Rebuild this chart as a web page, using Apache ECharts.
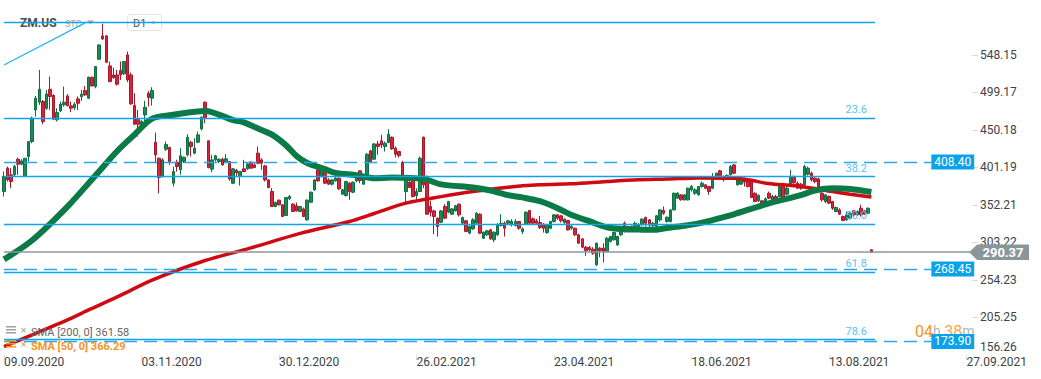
<!DOCTYPE html>
<html><head><meta charset="utf-8">
<script src="https://cdn.jsdelivr.net/npm/echarts@6/dist/echarts.min.js"></script>
<style>html,body{margin:0;padding:0;background:#fff}#c{width:1041px;height:379px}</style>
</head><body><div id="c"></div>
<script>
// ---------- data ----------
const xTickLabels = ['09.09.2020','03.11.2020','30.12.2020','26.02.2021','23.04.2021','18.06.2021','13.08.2021','27.09.2021'];
const xTickStep = 39;      // bars between date labels
const slotCount = 275;     // bar slots incl. empty future space
const yTickValues = [156.26, 205.25, 254.23, 303.22, 352.21, 401.19, 450.18, 499.17, 548.15];
const yMin = 156.26, yMax = 619.9;

// [open, close, low, high]
const candles = [
[369.7,389.3,363.2,395.8],[400.2,385.0,382.8,402.3],[391.5,382.8,374.0,400.2],[391.5,402.3,389.3,404.5],[411.9,405.4,391.5,414.1],
[405.4,409.7,404.0,412.0],[389.3,413.2,389.0,413.5],[415.4,435.0,408.9,435.5],[435.0,465.5,432.8,467.6],[476.3,491.6,467.6,494.6],
[486.4,503.3,482.9,528.6],[487.2,461.1,457.6,489.4],[478.5,497.2,476.3,502.5],[503.3,493.8,476.3,519.9],[495.1,464.2,463.3,496.8],
[463.3,472.9,461.1,478.5],[475.0,483.7,473.3,487.2],[482.9,486.4,480.7,506.8],[494.6,482.0,480.7,496.8],[481.6,478.5,473.3,487.2],
[479.4,483.7,476.3,486.4],[490.7,485.0,476.3,493.8],[493.8,496.8,488.1,502.5],[501.6,495.9,494.6,507.7],[491.6,519.0,490.7,519.9],
[519.0,507.7,506.8,519.9],[506.8,532.9,504.6,533.5],[542.5,561.2,541.6,562.1],[573.0,569.1,567.8,588.8],[573.0,538.6,537.3,574.3],
[533.8,513.3,512.5,539.5],[522.0,518.6,516.8,531.6],[522.0,509.9,508.1,528.6],[527.7,522.0,515.5,539.5],[523.4,539.5,522.0,540.0],
[548.2,515.5,512.5,552.5],[522.0,484.2,482.9,525.1],[482.0,457.6,456.8,498.1],[464.2,457.6,441.5,476.3],[456.8,461.1,455.0,463.0],
[469.8,479.8,459.0,488.1],[498.1,492.5,480.7,501.2],[491.6,501.6,482.0,505.9],[434.1,417.6,406.7,446.7],[413.2,388.0,367.5,414.1],
[389.3,411.1,388.0,413.2],[424.9,431.0,422.8,435.0],[427.2,408.9,404.5,428.5],[380.6,395.8,376.2,402.3],[408.0,402.3,395.8,411.1],
[398.0,416.3,391.5,426.3],[408.9,414.5,406.7,415.4],[417.6,440.6,415.4,444.6],[434.1,428.5,415.4,435.9],[419.8,426.3,418.5,439.3],
[434.1,443.7,432.8,448.0],[451.5,466.8,449.4,467.6],[486.4,466.3,458.9,487.2],[435.9,401.0,400.0,436.5],[398.9,411.0,394.9,417.6],
[411.0,416.3,408.9,417.6],[408.9,411.9,406.7,413.2],[411.9,404.5,403.6,414.1],[408.0,412.4,406.7,418.5],[408.9,386.2,383.6,409.7],
[380.6,399.3,379.3,400.2],[397.5,394.1,389.3,399.3],[389.3,395.8,377.5,396.7],[399.3,395.8,394.9,411.1],[399.3,405.8,398.0,406.7],
[408.0,400.2,399.3,409.7],[404.5,401.0,400.2,406.7],[419.8,406.7,405.4,428.5],[411.0,406.7,398.0,413.2],[403.2,384.9,382.8,404.5],
[384.9,374.9,374.0,385.8],[369.7,350.1,350.1,374.0],[350.1,355.3,349.2,356.6],[358.4,352.3,351.4,359.3],[352.3,337.0,336.6,353.2],
[338.4,361.9,337.9,362.3],[360.1,363.2,358.8,365.3],[353.2,343.6,342.7,354.5],[351.0,344.4,343.6,355.3],[343.6,350.1,342.7,351.0],
[347.0,337.0,336.2,348.8],[332.7,358.4,331.4,359.3],[355.8,368.8,354.5,369.7],[371.9,384.9,370.6,385.8],[398.0,383.6,382.8,402.3],
[389.3,398.9,388.0,400.2],[400.2,380.6,379.3,402.3],[384.9,379.3,378.4,387.1],[379.3,384.9,377.5,385.8],[383.6,387.1,382.8,398.0],
[387.1,373.2,371.9,388.0],[366.2,372.0,365.3,373.2],[364.5,382.8,363.2,383.6],[380.6,369.7,358.8,381.9],[368.8,381.9,367.5,382.8],
[383.6,389.3,381.9,392.3],[396.7,384.0,380.6,397.5],[379.3,391.5,378.4,392.3],[391.5,418.5,390.2,419.8],[422.8,408.0,406.7,424.1],
[411.9,431.9,411.0,432.8],[431.9,428.5,417.6,435.9],[435.9,430.6,426.3,443.7],[428.5,432.8,421.9,435.0],[433.7,444.6,432.8,451.1],
[440.6,425.4,424.1,441.5],[426.3,418.5,414.1,428.5],[421.9,416.7,414.1,422.8],[407.6,391.5,390.6,409.7],[369.7,384.9,352.3,386.2],
[381.9,374.9,374.0,383.6],[384.9,363.2,361.9,386.2],[364.5,369.7,358.8,374.0],[369.7,413.2,369.0,415.4],[440.6,378.4,374.0,441.5],
[389.3,340.1,339.2,390.6],[350.1,342.7,337.0,357.5],[344.4,337.0,314.0,345.7],[334.9,324.0,310.9,335.7],[329.6,344.4,328.4,345.7],
[350.1,334.9,333.6,353.2],[342.7,356.6,341.4,357.5],[340.1,347.0,339.2,347.9],[344.4,351.0,343.6,352.3],[353.2,339.2,337.0,354.0],
[328.4,335.7,326.2,337.0],[331.4,317.5,316.6,332.7],[315.3,324.0,314.0,325.3],[320.9,332.7,319.6,334.9],[328.4,341.4,327.0,342.7],
[340.1,315.3,314.0,341.4],[308.7,316.6,307.9,317.5],[313.1,318.3,311.8,319.6],[319.6,307.9,306.6,320.9],[306.6,316.6,303.5,317.5],
[313.1,325.3,311.8,328.3],[325.3,328.3,324.0,340.1],[328.3,321.8,310.9,330.5],[328.3,331.4,327.0,332.7],[326.2,330.5,324.0,333.6],
[325.3,330.5,324.0,333.6],[330.5,321.8,319.6,331.4],[317.5,320.9,314.0,322.7],[327.0,342.7,326.2,343.6],[344.9,328.3,327.0,345.7],
[334.0,328.3,327.0,335.7],[331.4,328.3,327.0,334.0],[329.2,322.7,320.5,337.9],[327.0,321.8,316.1,328.3],[316.1,325.3,314.4,326.2],
[321.8,330.5,320.5,331.4],[330.5,339.2,329.2,340.1],[339.2,334.9,332.7,340.1],[337.9,331.4,329.2,339.2],[329.2,333.6,327.5,334.9],
[331.8,319.6,318.7,332.7],[321.8,324.0,319.6,326.2],[321.8,313.1,311.8,322.7],[313.1,302.2,301.3,314.4],[307.9,297.0,295.7,308.7],
[297.0,292.6,285.7,298.7],[296.5,293.5,291.3,298.7],[294.4,289.2,287.0,297.0],[273.9,302.2,272.6,303.1],[295.7,292.6,283.9,297.0],
[295.7,291.3,277.0,302.2],[291.3,308.7,290.5,310.0],[304.4,311.0,303.1,311.8],[306.6,316.1,305.7,317.5],[300.0,310.9,298.7,311.8],
[313.1,324.0,311.8,324.9],[328.3,317.5,316.1,330.5],[319.6,324.0,318.7,324.9],[324.0,321.8,320.5,325.3],[324.0,328.3,321.8,330.5],
[324.0,326.2,319.6,328.3],[326.2,333.6,324.9,334.9],[335.7,328.3,324.0,337.0],[332.7,326.2,321.8,333.6],[325.3,328.3,323.0,330.0],
[324.0,337.9,321.8,339.2],[332.7,345.7,330.5,346.6],[344.9,341.4,339.2,350.1],[330.5,336.2,329.2,337.0],[330.5,345.7,329.2,346.6],
[345.7,367.5,344.9,368.4],[361.0,367.5,360.0,368.8],[365.3,358.8,357.9,366.2],[358.8,365.3,357.9,366.2],[358.8,374.0,357.9,374.9],
[371.9,376.2,369.7,378.4],[367.5,371.9,365.3,374.0],[365.3,376.2,364.5,377.1],[376.2,380.6,374.9,382.8],[378.4,374.0,372.7,379.3],
[376.2,369.7,365.3,377.1],[374.0,387.1,372.7,393.6],[387.1,393.6,384.9,394.5],[396.7,390.6,384.9,398.0],[389.3,384.9,382.8,390.6],
[387.1,390.6,384.9,392.3],[391.5,402.3,390.6,404.5],[404.5,393.6,392.3,405.4],[378.4,387.1,377.5,389.3],[379.3,386.2,378.4,389.3],
[386.2,381.9,376.2,388.0],[382.8,376.2,374.9,383.6],[382.8,361.9,361.0,383.6],[367.5,356.6,355.8,368.4],[357.5,364.5,355.8,366.2],
[357.5,352.3,350.1,358.8],[355.8,360.1,353.2,361.9],[367.5,361.0,359.7,369.7],[356.6,363.2,355.3,365.3],[363.2,358.8,357.5,365.3],
[363.2,376.2,361.9,377.1],[376.2,361.9,359.7,378.4],[366.2,374.0,364.5,376.2],[379.3,389.3,377.5,398.0],[388.0,381.0,376.2,390.6],
[380.6,374.0,372.7,382.8],[379.3,374.0,372.0,381.0],[378.4,402.3,376.2,404.5],[392.3,400.2,390.6,402.3],[393.6,384.9,382.8,395.8],
[387.1,382.8,380.6,389.3],[386.2,374.0,372.7,388.0],[367.5,358.8,356.6,376.2],[356.6,365.3,354.5,366.2],[363.2,354.5,353.2,364.5],
[356.6,347.9,345.7,357.5],[343.6,348.8,342.7,350.1],[345.7,340.1,339.2,347.9],[337.0,331.8,331.4,338.4],[332.7,339.2,331.4,343.6],
[334.9,341.4,333.0,342.5],[344.4,339.2,337.0,345.7],[339.2,343.6,338.0,345.0],[347.9,339.2,337.0,352.3],[344.4,340.1,339.2,345.7],
[341.4,347.9,340.1,348.8],[293.5,290.4,289.5,294.5]
];

// moving averages: [bar index, value]
const sma50 = [[0,281],[8,306],[18,350],[26,391],[32,422],[37,444],[42,465],[48,470],[57,475],[65,463],[68,460],[73,450],[76,444],[80,430],[83,416],[86,407],[91,399],[94,394],[100,391],[105,387],[110,388],[119,386],[124,379],[133,375],[138,371],[143,365],[147,362],[152,357],[157,348],[161,339],[166,331],[171,323],[176,320.5],[180,320],[184,319.6],[188,322],[193,325],[198,329],[203,335],[207,340],[216,353],[226,365],[230,371],[235,374],[240,373],[246,369]];
const sma200 = [[0,167],[8,182.5],[18,202],[24,215],[33,234],[42,254],[56,278],[70,296],[84,315],[98,330.5],[105,341],[114,354.5],[124,363],[133,369.6],[143,375.4],[152,378.4],[161,379.7],[171,382.7],[180,385],[188,386],[197,387.5],[207,387],[212,384.3],[216,380.6],[226,376.2],[235,369.6],[240,366.2],[246,362.5]];
const trendLine = [[0,535],[23,590]];

const fibHigh = 590.2, fibLow = 63.5;
const fibLevels = [0, 23.6, 38.2, 50.0, 61.8, 78.6];
const priceTags = [408.40, 268.45, 173.90];
const lastPrice = 290.37;
const legendItems = [
  {name:'SMA [200, 0]', value:361.58},
  {name:'SMA [50, 0]', value:366.29}
];
const symbolName = 'ZM.US', symbolType = 'STC', timeframe = 'D1';
const timerParts = ['04','h','38','m'];

// ---------- chart ----------
const FONT = 'Roboto, "Noto Sans", sans-serif';
const slots = Array.from({length: slotCount}, (_, i) => String(i));
const fibEnd = 247, tagEnd = 263, priceEnd = slotCount - 1;

const markLines = [];
fibLevels.forEach(l => {
  const v = fibHigh - (fibHigh - fibLow) * l / 100;
  markLines.push([{
    coord: [0, v],
    lineStyle: {color: '#12a2e8', width: 1.3, type: 'solid'},
    label: l === 0 ? {show: false} : {show: true, position: 'insideEndTop', formatter: l.toFixed(1),
      color: '#5cc3f2', fontSize: 11, fontFamily: FONT, distance: [8, 3]}
  }, {coord: [fibEnd, v]}]);
});
priceTags.forEach(v => {
  markLines.push([{
    coord: [0, v],
    lineStyle: {color: '#2aa8ec', width: 1.4, type: [13, 7]},
    label: {show: true, position: 'end', distance: 0, formatter: v.toFixed(2),
      backgroundColor: '#0aa2e8', color: '#fff', fontSize: 12, fontFamily: FONT,
      padding: [2, 3, 1, 3], lineHeight: 12}
  }, {coord: [tagEnd, v]}]);
});
markLines.push([{
  coord: [0, lastPrice],
  lineStyle: {color: '#8c979b', width: 1.5, type: 'solid'},
  label: {show: false}
}, {coord: [priceEnd, lastPrice]}]);

const chart = echarts.init(document.getElementById('c'), null, {renderer: 'svg'});
const gridLeft = 2.24, gridWidth = 969.65, gridTop = 0, gridHeight = 354.9;

const option = {
  animation: false,
  backgroundColor: '#fff',
  grid: {left: gridLeft, width: gridWidth, top: gridTop, height: gridHeight, containLabel: false},
  xAxis: {
    type: 'category', data: slots, boundaryGap: true,
    axisLine: {show: false},
    splitLine: {show: false},
    axisTick: {show: true, alignWithLabel: true, length: 5, interval: (i) => i % xTickStep === 0,
      lineStyle: {color: '#dcdcdc'}},
    axisLabel: {
      interval: (i) => i % xTickStep === 0,
      formatter: (val, idx) => xTickLabels[Math.round(idx / xTickStep)] || '',
      align: 'left', margin: 1, color: '#3d4347', fontSize: 12, fontFamily: FONT
    }
  },
  yAxis: {
    type: 'value', position: 'right', min: yMin, max: yMax, scale: true,
    axisLine: {show: false}, splitLine: {show: false},
    axisTick: {show: true, customValues: yTickValues.slice(1), length: 6, lineStyle: {color: '#dcdcdc'}},
    axisLabel: {
      customValues: yTickValues, margin: 8, color: '#3d4347', fontSize: 12, fontFamily: FONT,
      formatter: (v) => Math.abs(v - yTickValues[0]) < 0.01 ? '{lo|' + v.toFixed(2) + '}' : v.toFixed(2),
      rich: {lo: {padding: [0, 0, 15, 0], color: '#3d4347', fontSize: 12, fontFamily: FONT}}
    }
  },
  series: [
    {
      type: 'candlestick', data: candles, barWidth: 3, z: 2,
      itemStyle: {color: '#1c8a56', color0: '#d3263a', borderColor: '#0f6e42', borderColor0: '#a9172a', borderWidth: 1}
    },
    {
      type: 'line', data: sma200, showSymbol: false, smooth: 0.3, z: 3, silent: true,
      lineStyle: {color: '#d00a12', width: 3.5}
    },
    {
      type: 'line', data: sma50, showSymbol: false, smooth: 0.3, z: 4, silent: true,
      lineStyle: {color: '#0a7a47', width: 6}
    },
    {
      type: 'line', data: trendLine, showSymbol: false, z: 5, silent: true,
      lineStyle: {color: '#29b2f2', width: 1.3},
      markLine: {silent: true, symbol: 'none', animation: false, data: markLines}
    }
  ]
};
chart.setOption(option);

// ---------- text / overlays ----------
const yLast = chart.convertToPixel({yAxisIndex: 0}, lastPrice);
const xLast = chart.convertToPixel({xAxisIndex: 0}, priceEnd);
const orange = '#f7931e';
const graphic = [
  // header
  {type: 'text', x: 20, y: 23, z: 0, style: {text: symbolName, fill: '#4d4d4d', font: 'bold 12px ' + FONT, verticalAlign: 'middle'}},
  {type: 'text', x: 65, y: 24, z: 0, style: {text: symbolType, fill: '#a8a8a8', font: '9px ' + FONT, verticalAlign: 'middle'}},
  {type: 'polygon', z: 0, shape: {points: [[87, 20.5], [94, 20.5], [90.5, 24.5]]}, style: {fill: '#a8a8a8'}},
  {type: 'rect', z: 0, shape: {x: 127.5, y: 14.5, width: 34, height: 16, r: 3}, style: {fill: '#fff', stroke: '#e2e2e2', lineWidth: 1}},
  {type: 'text', x: 133, y: 23, z: 0, style: {text: timeframe, fill: '#555', font: '11px ' + FONT, verticalAlign: 'middle'}},
  {type: 'polygon', z: 0, shape: {points: [[151, 21.5], [156, 21.5], [153.5, 24.5]]}, style: {fill: '#b8b8b8'}},
  // legend row 1
  {type: 'rect', z: 6, shape: {x: 6, y: 326, width: 10, height: 1.5}, style: {fill: '#a0a0a0'}},
  {type: 'rect', z: 6, shape: {x: 6, y: 329, width: 10, height: 1.5}, style: {fill: '#a0a0a0'}},
  {type: 'rect', z: 6, shape: {x: 6, y: 332, width: 10, height: 1.5}, style: {fill: '#a0a0a0'}},
  {type: 'text', x: 23.5, y: 330, z: 6, style: {text: '✕', fill: '#a0a0a0', font: 'bold 8px "DejaVu Sans"', align: 'center', verticalAlign: 'middle'}},
  {type: 'text', x: 31, y: 332.5, z: 6, style: {text: legendItems[0].name + ' ' + legendItems[0].value.toFixed(2), fill: '#666', font: '11px ' + FONT, verticalAlign: 'middle'}},
  // legend row 2
  {type: 'rect', z: 6, shape: {x: 6, y: 340, width: 10, height: 1.5}, style: {fill: orange}},
  {type: 'rect', z: 6, shape: {x: 6, y: 343, width: 10, height: 1.5}, style: {fill: orange}},
  {type: 'rect', z: 6, shape: {x: 6, y: 346, width: 10, height: 1.5}, style: {fill: orange}},
  {type: 'text', x: 23.5, y: 344, z: 6, style: {text: '✕', fill: orange, font: 'bold 8px "DejaVu Sans"', align: 'center', verticalAlign: 'middle'}},
  {type: 'text', x: 31, y: 346.5, z: 6, style: {text: legendItems[1].name + ' ' + legendItems[1].value.toFixed(2), fill: orange, font: 'bold 11px ' + FONT, verticalAlign: 'middle'}},
  // timer (one rich text, just above the 173.90 tag)
  {type: 'text', x: 915, y: 331, z: 0, style: {
    text: '{o|' + timerParts[0] + '}{g|' + timerParts[1] + '} {p|' + timerParts[2] + '}{g|' + timerParts[3] + '}',
    verticalAlign: 'middle', font: '14px ' + FONT,
    rich: {
      o: {fill: orange, font: '16px ' + FONT},
      p: {fill: '#f9a54a', font: '16px ' + FONT},
      g: {fill: '#b5b5b5', font: '14px ' + FONT}
    }
  }},
  // last price tag
  {type: 'polygon', z: 20, shape: {points: [[xLast - 1, yLast], [xLast + 7, yLast - 7.8], [1029, yLast - 7.8], [1029, yLast + 7.8], [xLast + 7, yLast + 7.8]]}, style: {fill: '#8b969a'}},
  {type: 'text', x: 1003, y: yLast + 0.5, z: 21, style: {text: lastPrice.toFixed(2), fill: '#fff', font: 'bold 13px ' + FONT, align: 'center', verticalAlign: 'middle'}}
];
chart.setOption({graphic: graphic});
</script>
</body></html>
